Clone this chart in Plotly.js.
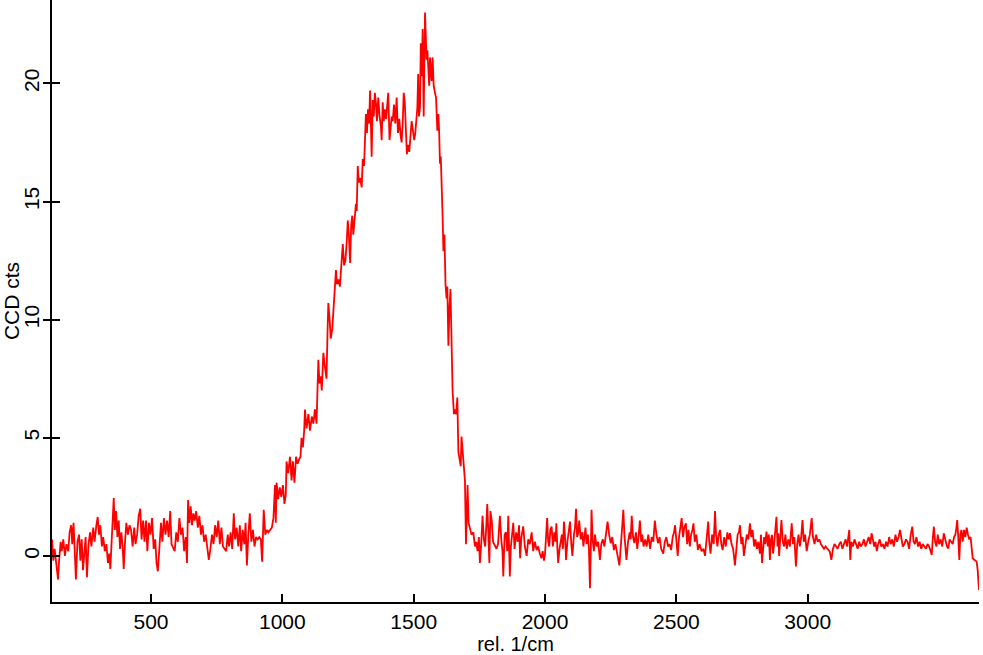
<!DOCTYPE html>
<html>
<head>
<meta charset="utf-8">
<script src="https://cdn.plot.ly/plotly-3.0.1.min.js"></script>
<style>html,body{margin:0;padding:0;background:#fff;}#chart{width:983px;height:655px;}</style>
</head>
<body>
<div id="chart"></div>
<script>
// Spectrum: [rel. 1/cm, CCD cts]
const baselineLeft = [
[123,0.7],[128,-0.2],[133,0.3],[140,-0.4],[146,-1.0],[150,-0.2],[156,0.6],[160,0.2],[166,0.7],[172,0.0],
[178,0.5],[185,0.2],[190,1.0],[196,1.3],[200,0.5],[205,1.4],[209,0.3],[214,-1.0],[220,0.6],[226,0.9],
[231,-0.2],[236,0.7],[241,-0.6],[246,0.3],[251,0.8],[256,-0.9],[262,0.5],[268,1.0],[273,0.4],[280,1.2],
[285,0.6],[292,1.3],[297,1.65],[302,0.9],[307,1.3],[313,0.4],[318,0.8],[324,0.2],[330,0.5],[336,-0.3],
[341,0.1],[345,-0.55],[350,0.6],[355,1.8],[358,2.45],[362,1.1],[367,1.9],[372,0.8],[377,1.5],[382,0.3],
[387,1.0],[392,0.4],[396,-0.55],[401,0.6],[406,1.4],[412,0.9],[418,1.3],[424,1.1],[430,0.4],[436,1.2],
[441,0.5],[447,0.9],[453,1.7],[459,2.0],[464,0.7],[470,1.5],[475,0.6],[481,1.5],[486,0.2],[492,1.4],
[498,0.9],[504,1.6],[510,0.3],[516,0.7],[521,-0.3],[526,-0.65],[532,0.4],[538,1.4],[543,0.6],[549,1.6],
[555,0.9],[561,1.5],[567,0.8],[573,1.9],[578,0.5],[584,0.3],[590,0.2],[596,1.0],[602,0.6],[608,1.6],
[614,0.9],[620,1.2],[626,0.2],[632,0.8],[637,-0.3],[641,2.37],[646,1.4],[651,2.1],[656,1.3],[661,1.8],
[666,1.5],[672,1.9],[678,1.2],[684,1.7],[690,0.9],[696,1.3],[702,0.6],[708,0.9],[714,0.2],[720,-0.17],
[726,0.3],[732,0.9],[738,0.5],[744,1.3],[750,0.8],[756,1.5],[762,0.5],[768,1.2],[774,0.4],[780,0.3],
[786,0.2],[792,0.9],[797,0.4],[803,1.0],[809,0.3],[815,1.8],[820,0.7],[826,1.2],[832,0.4],[838,1.3],
[843,0.2],[849,1.1],[855,0.5],[860,1.4],[865,-0.4],[870,0.8],[876,1.8],[882,0.6],[888,1.1],[894,0.4],
[900,0.8],[906,0.7],[912,0.8],[918,0.7],[923,-0.24],[929,1.95],[935,0.9],[941,1.1],[947,1.0],[953,1.1],
[960,1.2],[966,1.6]
];
const risingEdge = [
[972,3.0],[975,1.4],[978,3.1],[984,2.4],[990,2.9],[996,2.5],[1002,3.0],[1008,2.2],[1013,2.6],[1016,4.0],
[1022,3.5],[1029,4.2],[1035,3.2],[1040,4.0],[1046,3.1],[1052,4.2],[1058,3.9],[1064,4.1],[1069,4.2],[1073,5.0],
[1078,4.6],[1083,5.3],[1086,6.2],[1092,5.4],[1099,6.0],[1105,5.3],[1112,5.9],[1118,5.6],[1124,6.2],[1130,5.6],
[1134,7.0],[1137,8.3],[1141,7.3],[1146,7.6],[1150,7.0],[1156,8.6],[1162,8.0],[1168,7.5],[1172,9.5],[1175,10.7],
[1180,10.0],[1184,9.2],[1190,9.6],[1195,10.5],[1200,11.3],[1204,12.1],[1208,11.5],[1214,11.7],[1219,11.4],[1225,12.4],
[1230,13.2],[1235,12.3],[1240,12.5],[1245,13.3],[1249,14.2],[1253,13.6],[1258,12.4],[1262,14.0],[1266,14.4],[1270,13.6],
[1276,14.4],[1280,14.9],[1283,14.6],[1287,16.5],[1291,15.8],[1296,16.0],[1302,15.6],[1306,16.8],[1311,16.5],[1315,17.6],
[1318,18.7],[1322,17.9],[1326,18.9],[1330,18.3],[1334,19.7],[1337,18.3],[1340,16.9],[1344,19.3],[1348,18.6],[1352,19.6]
];
const peakTop = [
[1356,19.2],[1360,18.4],[1365,19.4],[1370,18.6],[1375,18.2],[1378,17.6],[1382,19.2],[1386,18.4],[1390,18.9],[1395,18.5],
[1399,19.0],[1403,19.6],[1408,17.6],[1412,18.2],[1416,18.6],[1420,18.4],[1425,19.1],[1430,18.3],[1435,19.4],[1440,17.9],
[1445,18.5],[1450,17.8],[1454,17.5],[1458,18.3],[1462,19.6],[1466,19.2],[1470,18.2],[1474,17.0],[1478,17.4],[1483,17.1],
[1488,17.8],[1492,18.4],[1497,18.0],[1502,17.6],[1506,17.9],[1510,18.7],[1514,19.0],[1517,20.4],[1520,18.6],[1524,19.0],
[1527,21.7],[1531,20.3],[1534,22.3],[1538,18.6],[1541,21.5],[1543,23.0],[1546,22.0],[1549,21.0],[1552,21.4],[1556,20.2],
[1559,19.9],[1562,21.1],[1566,20.4],[1568,20.1],[1572,21.1],[1576,19.9],[1581,19.6],[1585,19.4],[1590,18.0],[1594,18.7],
[1597,17.9]
];
const fallingEdge = [
[1600,16.6],[1603,16.9],[1606,15.2],[1610,14.4],[1613,12.9],[1617,13.6],[1621,11.5],[1625,10.9],[1628,11.4],[1632,8.9],
[1636,10.5],[1640,11.3],[1644,9.1],[1648,7.0],[1653,6.0],[1657,6.2],[1662,6.0],[1666,6.7],[1670,4.4],[1674,4.1],
[1679,3.8],[1682,5.05],[1686,4.5],[1690,4.1],[1695,3.2],[1699,0.5],[1702,1.8],[1705,3.0],[1709,1.4],[1714,1.1]
];
const baselineMid = [
[1720,0.9],[1727,1.0],[1733,0.4],[1738,0.6],[1743,0.2],[1748,0.8],[1752,-0.3],[1757,0.5],[1762,1.7],[1767,0.7],
[1772,0.4],[1776,1.2],[1780,2.2],[1784,1.0],[1788,-0.3],[1792,1.9],[1797,1.5],[1802,0.6],[1809,0.4],[1815,0.3],
[1821,0.5],[1828,1.7],[1834,0.6],[1838,0.2],[1841,-0.87],[1846,0.9],[1851,1.0],[1856,0.2],[1860,1.7],[1863,0.6],
[1866,-0.87],[1870,0.4],[1875,0.9],[1879,1.4],[1884,0.3],[1890,1.0],[1896,0.6],[1901,1.3],[1905,-0.1],[1910,0.8],
[1917,1.25],[1923,0.4],[1930,0.0],[1936,0.7],[1942,0.5],[1949,1.0],[1955,0.2],[1961,0.6],[1968,0.25],[1974,0.4],
[1980,0.1],[1986,-0.1],[1991,0.2],[1996,-0.2],[2000,0.1],[2004,0.8],[2008,1.6],[2012,0.6],[2016,0.4],[2020,1.1],
[2025,1.24],[2030,0.4],[2035,1.0],[2040,0.6],[2043,1.38],[2047,0.3],[2050,-0.3],[2055,0.3],[2059,0.54],[2064,0.9],
[2068,0.3],[2072,1.45],[2076,0.8],[2080,-0.17],[2085,0.6],[2090,1.0],[2095,1.45],[2100,0.5],[2104,0.0],[2110,0.9],
[2114,1.2],[2118,2.0],[2122,0.8],[2126,0.96],[2130,1.5],[2136,0.7],[2142,1.0],[2146,0.4],[2150,0.9],[2154,1.2],
[2158,0.5],[2163,0.9],[2167,0.3],[2171,-1.37],[2174,0.2],[2177,1.95],[2181,0.7],[2186,0.2],[2190,0.9],[2196,0.4],
[2202,0.6],[2209,-0.17],[2214,0.5],[2220,0.7],[2226,0.4],[2232,1.0],[2238,1.45],[2244,0.9],[2250,0.54],[2256,0.8],
[2262,0.25],[2268,0.5],[2275,0.1],[2283,-0.4],[2289,0.5],[2294,1.2],[2298,1.95],[2302,0.9],[2306,0.3],[2310,-0.17],
[2316,0.6],[2322,1.0],[2326,0.7],[2330,1.7],[2335,0.8],[2340,0.54],[2346,1.0],[2351,0.3],[2356,0.8],[2361,1.5],
[2366,0.6],[2370,0.9],[2375,0.4],[2381,0.7],[2387,0.4],[2393,0.9],[2400,0.3],[2406,0.8],[2412,0.6],[2418,1.5],
[2424,0.9],[2430,0.54],[2436,0.8],[2442,0.3],[2450,0.1],[2456,0.6],[2462,0.8],[2468,0.4],[2474,0.5],[2480,0.25],
[2486,0.8],[2491,1.0],[2495,1.3],[2500,0.7],[2505,0.0],[2510,0.8],[2515,1.2],[2520,1.6],[2525,0.8],[2530,1.2],
[2536,1.38],[2541,0.5],[2546,1.1],[2551,0.4],[2556,0.9],[2561,1.1],[2565,1.38],[2570,0.6],[2576,0.9],[2582,0.25],
[2588,0.5],[2596,0.2],[2603,0.3],[2609,0.0],[2614,0.6],[2618,1.0],[2621,1.45],[2625,0.6],[2630,0.1],[2636,0.9],
[2642,0.5],[2647,1.9],[2651,0.9],[2656,0.4],[2661,0.9],[2666,1.1],[2671,0.5],[2676,0.25],[2682,0.8],[2688,0.4],
[2694,1.0],[2699,0.7],[2704,0.96],[2710,0.5],[2716,0.3],[2723,-0.4],[2728,0.5],[2733,0.9],[2738,1.0],[2742,1.3],
[2747,0.5],[2752,0.8],[2757,0.0],[2762,0.5],[2768,0.9],[2774,0.7],[2780,1.38],[2785,0.8],[2790,1.1],[2796,0.4],
[2801,0.7],[2807,0.3],[2812,0.6],[2818,0.1]
];
const baselineRight = [
[2822,0.9],[2826,-0.3],[2830,0.3],[2834,0.8],[2838,0.5],[2843,1.03],[2848,0.4],[2852,0.9],[2856,-0.17],[2860,0.7],
[2864,0.89],[2868,0.1],[2872,0.5],[2876,1.0],[2881,1.66],[2885,0.4],[2888,0.96],[2891,0.0],[2896,0.8],[2900,1.52],
[2905,0.6],[2910,0.4],[2915,0.9],[2920,0.3],[2926,0.7],[2932,0.4],[2939,1.38],[2944,0.5],[2949,0.8],[2955,-0.45],
[2960,0.5],[2965,0.9],[2970,0.4],[2975,0.8],[2980,1.52],[2985,0.6],[2990,0.9],[2996,0.2],[3002,0.6],[3008,0.9],
[3015,1.6],[3020,0.8],[3026,0.5],[3032,0.9],[3038,0.6],[3044,0.7],[3050,0.5],[3056,0.4],[3062,0.3],[3068,0.4],
[3074,0.3],[3080,0.2],[3084,0.18],[3090,-0.17],[3096,0.3],[3102,0.5],[3108,0.4],[3114,0.3],[3120,0.5],[3126,0.6],
[3132,0.3],[3138,0.5],[3144,0.7],[3150,0.4],[3154,0.9],[3158,1.1],[3162,-0.17],[3166,0.6],[3172,0.4],[3178,0.7],
[3184,0.5],[3190,0.3],[3196,0.6],[3202,0.4],[3208,0.5],[3214,0.7],[3220,0.4],[3226,0.6],[3232,0.8],[3238,0.5],
[3243,0.96],[3248,0.7],[3253,0.4],[3258,0.6],[3263,0.2],[3268,0.5],[3274,0.7],[3280,0.4],[3286,0.5],[3292,0.3],
[3298,0.6],[3304,0.4],[3310,0.8],[3316,0.5],[3322,0.7],[3328,0.4],[3334,0.9],[3340,0.6],[3346,0.8],[3351,1.1],
[3356,0.7],[3362,0.4],[3368,0.5],[3374,0.7],[3380,0.6],[3386,0.3],[3392,0.9],[3398,1.24],[3403,0.6],[3408,0.5],
[3414,0.8],[3420,0.4],[3426,0.6],[3432,0.3],[3438,0.5],[3444,0.4],[3450,0.3],[3456,0.5],[3462,0.4],[3468,0.2],
[3472,0.04],[3476,0.7],[3480,1.24],[3485,0.6],[3490,0.4],[3495,0.9],[3500,0.5],[3506,0.7],[3512,0.4],[3518,0.96],
[3524,0.6],[3530,0.4],[3535,0.32],[3540,0.7],[3546,0.6],[3552,0.5],[3557,0.8],[3562,0.9],[3566,1.2],[3569,1.52],
[3573,0.8],[3577,-0.17],[3581,0.9],[3585,1.1],[3590,0.6],[3595,1.1],[3600,0.8],[3605,1.2],[3610,0.9],[3615,0.7],
[3620,0.8],[3624,0.2],[3628,-0.1],[3633,-0.15],[3638,-0.2],[3643,-0.24],[3647,-0.6],[3652,-1.44]
];

const xTickVals = [500, 1000, 1500, 2000, 2500, 3000];
const xTickText = ['500', '1000', '1500', '2000', '2500', '3000'];
const yTickVals = [0, 5, 10, 15, 20];
const yTickText = ['0', '5', '10', '15', '20'];
const xTitle = 'rel. 1/cm';
const yTitle = 'CCD cts';

const spectrum = [].concat(baselineLeft, risingEdge, peakTop, fallingEdge, baselineMid, baselineRight);
const xs = spectrum.map(p => p[0]);
const ys = spectrum.map(p => p[1]);

const FONT = 'Liberation Sans, Arial, sans-serif';
const xRange = [123, 3652];
const yRange = [-1.95, 23.53];

const trace = {
  x: xs, y: ys, type: 'scatter', mode: 'lines',
  line: {color: '#ff0000', width: 1.8},
  hoverinfo: 'skip', showlegend: false
};
// invisible helper trace for the inner half of the y ticks
const helper = {
  x: [xRange[0]], y: [0], xaxis: 'x', yaxis: 'y2', mode: 'markers',
  marker: {opacity: 0}, hoverinfo: 'skip', showlegend: false
};

const layout = {
  width: 983, height: 655,
  margin: {l: 52, r: 4, t: 0, b: 53, pad: 0},
  paper_bgcolor: '#ffffff', plot_bgcolor: '#ffffff',
  font: {family: FONT, size: 21, color: '#000000'},
  xaxis: {
    range: xRange, showgrid: false, zeroline: false,
    showline: true, linecolor: '#000000', linewidth: 2,
    ticks: 'inside', ticklen: 8, tickwidth: 2, tickcolor: '#000000',
    tickvals: xTickVals, ticktext: xTickText, ticklabelstandoff: 0,
    tickfont: {family: FONT, size: 21, color: '#000000'},
    title: {text: xTitle, font: {family: FONT, size: 20, color: '#000000'}, standoff: 4},
    automargin: false
  },
  yaxis: {
    range: yRange, showgrid: false, zeroline: false,
    showline: true, linecolor: '#000000', linewidth: 2,
    ticks: 'outside', ticklen: 7, tickwidth: 2, tickcolor: '#000000',
    tickvals: yTickVals, ticktext: yTickText, tickangle: -90, ticklabelstandoff: -4,
    tickfont: {family: FONT, size: 21, color: '#000000'},
    title: {text: yTitle, font: {family: FONT, size: 21, color: '#000000'}, standoff: 0},
    automargin: false
  },
  yaxis2: {
    range: yRange, overlaying: 'y', side: 'left', anchor: 'x',
    showgrid: false, zeroline: false, showline: false,
    ticks: 'inside', ticklen: 8, tickwidth: 2, tickcolor: '#000000',
    tickvals: yTickVals, showticklabels: false
  }
};

Plotly.newPlot('chart', [trace, helper], layout, {displayModeBar: false, staticPlot: true});
</script>
</body>
</html>
